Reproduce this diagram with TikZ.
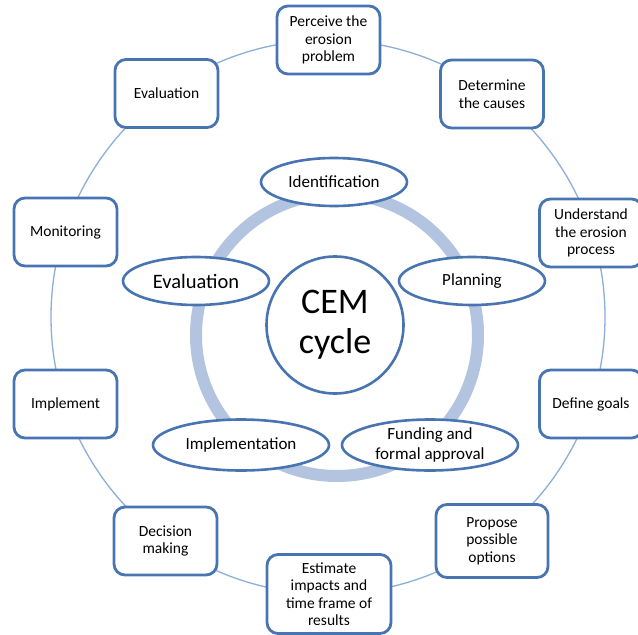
\documentclass[tikz,border=0pt]{standalone}
\usepackage{fontspec}
\setmainfont{Carlito}
\usetikzlibrary{shapes.geometric}
\definecolor{boxblue}{RGB}{72,117,178}
\definecolor{ringblue}{RGB}{178,196,223}
\definecolor{lineblue}{RGB}{140,174,215}
\tikzset{
  obox/.style={draw=boxblue, line width=2.8pt, rounded corners=11pt, fill=white,
    minimum width=103pt, minimum height=68pt, align=center, inner sep=0pt,
    font=\fontsize{15.5}{17.5}\selectfont},
  inell/.style={ellipse, draw=boxblue, line width=2.6pt, fill=white,
    minimum width=146pt, minimum height=48pt, inner sep=0pt, align=center,
    font=\fontsize{17}{20}\selectfont},
  cemc/.style={circle, draw=boxblue, line width=2.6pt, fill=white,
    minimum size=137pt, inner sep=0pt, align=center,
    font=\fontsize{36}{40}\selectfont}
}
\begin{document}
\begin{tikzpicture}[x=1pt,y=-1pt]
\useasboundingbox (0,0) rectangle (638,635);
\clip (0,0) rectangle (638,635);
\fill[white] (0,0) rectangle (638,635);
% outer cycle
\coordinate (oc) at (328,317);
\draw[lineblue, line width=1.3pt] (oc) circle[radius=277];
% inner ring
\coordinate (ic) at (337,335);
\draw[ringblue, line width=12pt] (ic) circle[radius=141];
% outer boxes
\node[obox] (perc) at (328.5,40) {Perceive the\\erosion\\problem};
\node[obox] (det) at (492,94) {Determine\\the causes};
\node[obox] (und) at (591,233) {Understand\\the erosion\\process};
\node[obox] (goal) at (591,404) {Define goals};
\node[obox, minimum width=112pt, minimum height=73pt] (prop) at (492,541) {Propose\\possible\\options};
\node[obox, minimum width=124pt, minimum height=79pt] (est) at (329,594) {Estimate\\impacts and\\time frame of\\results};
\node[obox] (dec) at (165.5,541) {Decision\\making};
\node[obox] (impl) at (65.5,404) {Implement};
\node[obox] (mon) at (65.5,232) {Monitoring};
\node[obox] (eval) at (166.5,93.5) {Evaluation};
% inner cycle
\node[inell] (ident) at (334,182) {Identification};
\node[inell] (plan) at (472,281) {Planning};
\node[inell, font=\fontsize{20.5}{24}\selectfont] (ieval) at (196,281) {Evaluation};
\node[inell, minimum width=176pt, minimum height=51pt] (iimpl) at (241,445) {Implementation};
\node[inell, minimum width=176pt, minimum height=51pt] (fund) at (430,445) {Funding and\\formal approval};
\node[cemc] (cem) at (335,325) {CEM\\cycle};
\end{tikzpicture}
\end{document}
